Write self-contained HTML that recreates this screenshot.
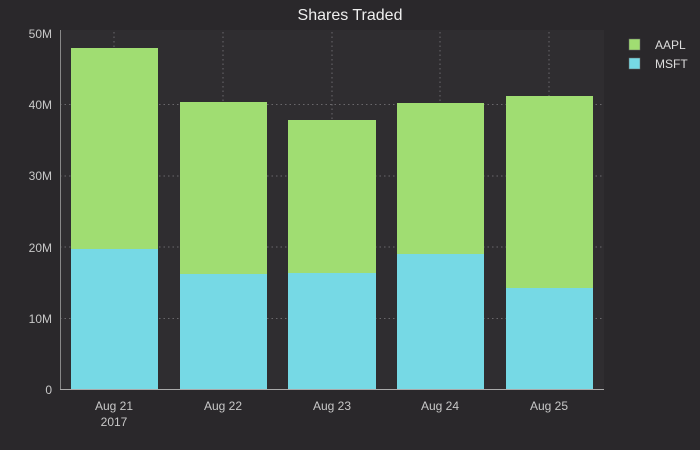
<!DOCTYPE html>
<html><head><meta charset="utf-8"><style>
html,body{margin:0;padding:0;background:#2a282b;}
svg{display:block;font-family:"Liberation Sans",sans-serif;}
</style></head><body>
<svg width="700" height="450" viewBox="0 0 700 450">
<rect width="700" height="450" fill="#2a282b"/>
<rect x="60" y="30" width="544" height="360" fill="#2f2d30"/>
<g stroke="#6a686b" stroke-width="1" stroke-dasharray="1.5,3">
<line x1="114" y1="32" x2="114" y2="390"/>
<line x1="223" y1="32" x2="223" y2="390"/>
<line x1="332" y1="32" x2="332" y2="390"/>
<line x1="440" y1="32" x2="440" y2="390"/>
<line x1="549" y1="32" x2="549" y2="390"/>
<line x1="60" y1="104.5" x2="604" y2="104.5"/>
<line x1="60" y1="176" x2="604" y2="176"/>
<line x1="60" y1="247" x2="604" y2="247"/>
<line x1="60" y1="318.5" x2="604" y2="318.5"/>
</g>
<g fill="#a0dd72">
<rect x="71" y="48" width="87" height="342"/>
<rect x="180" y="102" width="87" height="288"/>
<rect x="288" y="120" width="88" height="270"/>
<rect x="397" y="103" width="87" height="287"/>
<rect x="506" y="96" width="87" height="294"/>
</g>
<g fill="#76d9e5">
<rect x="71" y="249" width="87" height="141"/>
<rect x="180" y="274" width="87" height="116"/>
<rect x="288" y="273" width="88" height="117"/>
<rect x="397" y="254" width="87" height="136"/>
<rect x="506" y="288" width="87" height="102"/>
</g>
<line x1="60.5" y1="30" x2="60.5" y2="390" stroke="#888" stroke-width="1"/>
<line x1="60" y1="389.5" x2="604" y2="389.5" stroke="#aaa" stroke-width="1"/>
<g fill="#c8c8c8" font-size="12" text-anchor="end">
<text x="52" y="38">50M</text>
<text x="52" y="109">40M</text>
<text x="52" y="180">30M</text>
<text x="52" y="252">20M</text>
<text x="52" y="323">10M</text>
<text x="52" y="394">0</text>
</g>
<g fill="#c8c8c8" font-size="12" text-anchor="middle">
<text x="114" y="410">Aug 21</text>
<text x="114" y="426">2017</text>
<text x="223" y="410">Aug 22</text>
<text x="332" y="410">Aug 23</text>
<text x="440" y="410">Aug 24</text>
<text x="549" y="410">Aug 25</text>
</g>
<text x="350" y="20" fill="#eeeeee" font-size="16" text-anchor="middle">Shares Traded</text>
<rect x="629" y="39" width="11" height="11" fill="#a0dd72" stroke="#666" stroke-width="0.5"/>
<rect x="629" y="58" width="11" height="11" fill="#76d9e5" stroke="#666" stroke-width="0.5"/>
<g fill="#dddddd" font-size="12">
<text x="655" y="49">AAPL</text>
<text x="655" y="68">MSFT</text>
</g>
</svg>
</body></html>
